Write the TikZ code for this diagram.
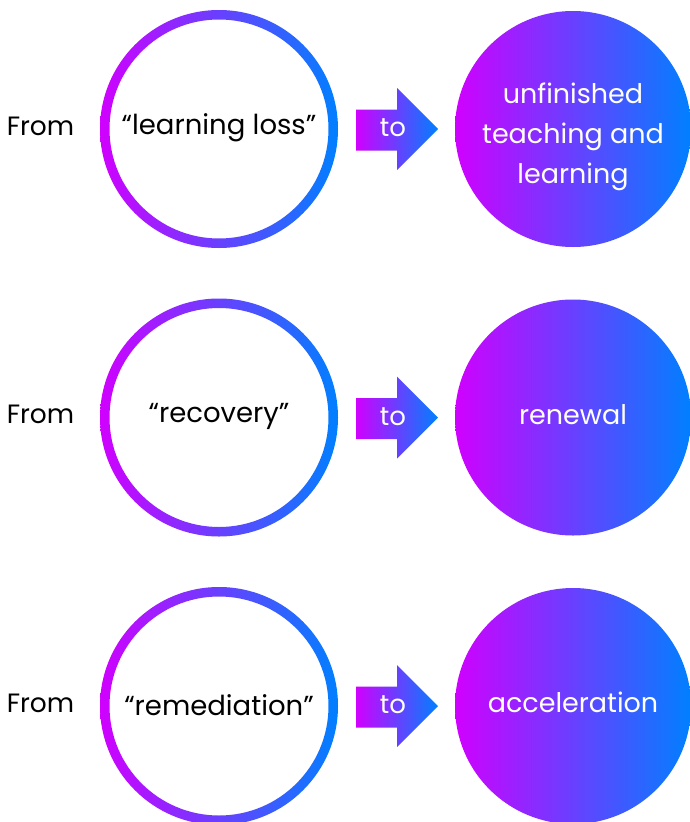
\documentclass[tikz,border=0pt]{standalone}
\usepackage{fontspec}
\setmainfont{Poppins}
\definecolor{gmag}{RGB}{208,0,255}
\definecolor{gblue}{RGB}{0,128,255}
\tikzset{
  lbl/.style={font=\fontsize{26.5}{40}\selectfont, text=black},
  ringnode/.style={circle, minimum size=238pt, inner sep=0pt},
  ringtext/.style={font=\fontsize{27.5}{40}\selectfont, text=black},
  fillnode/.style={circle, minimum size=236pt, inner sep=0pt, left color=gmag, right color=gblue},
  filltext/.style={text=white, align=center, font=\fontsize{27}{40}\selectfont},
  grad/.style={left color=gmag, right color=gblue},
  totext/.style={text=white, font=\fontsize{26}{40}\selectfont}
}
\begin{document}
\begin{tikzpicture}[x=1pt,y=-1pt]
\useasboundingbox (0,0) rectangle (689,822);
\fill[white] (0,0) rectangle (689,822);
\foreach \i/\y/\lt/\rt/\dy in {1/129/{“learning loss”}/{unfinished\\teaching and\\learning}/8,
                           2/417.5/{“recovery”}/{renewal}/-3,
                           3/706/{“remediation”}/{acceleration}/-4}{
  \node[lbl] (F\i) at (40.5,\y-3) {From};
  \node[ringnode] (L\i) at (219,\y) {};
  \node[ringtext] (LT\i) at ([yshift=1pt]L\i.center) {\lt};
  \shade[grad, even odd rule] (L\i.center) circle[radius=119] circle[radius=109.5];
  \shade[grad] (356,\y-19.5) -- (397,\y-19.5) -- (397,\y-41) -- (438,\y) -- (397,\y+41)
     -- (397,\y+21.5) -- (356,\y+21.5) -- cycle;
  \node[totext] (T\i) at (393,\y-1) {to};
  \node[fillnode] (R\i) at (573,\y) {};
  \node[filltext] (RT\i) at ([yshift=-\dy pt]R\i.center) {\rt};
}
\end{tikzpicture}
\end{document}
